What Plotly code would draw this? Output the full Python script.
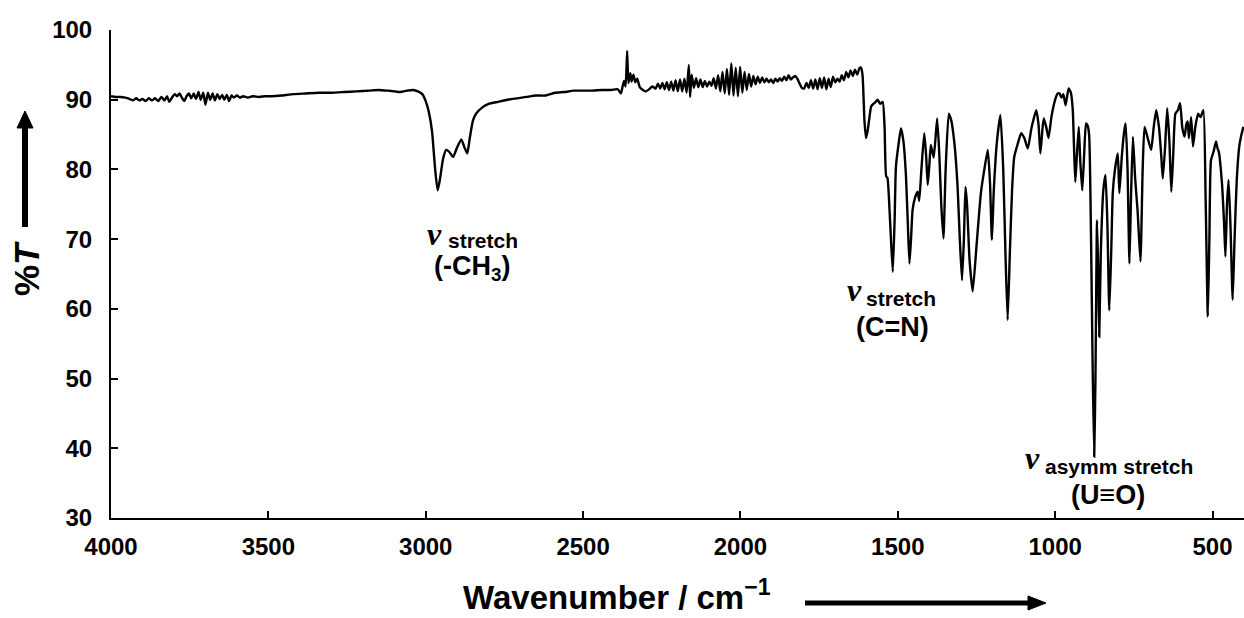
import plotly.graph_objects as go

# ---- IR spectrum, transmittance (%T) vs wavenumber (cm-1) ----
# high-wavenumber baseline
wn_base = [4000, 3985, 3970, 3955, 3940, 3930, 3920, 3910, 3900, 3890, 3880, 3870,
           3860, 3850, 3840, 3830, 3822, 3815, 3805, 3797, 3790, 3782, 3775, 3767,
           3760, 3752, 3745, 3737, 3730, 3722, 3715, 3707, 3700, 3692, 3685, 3677,
           3670, 3662, 3655, 3647, 3640, 3632, 3625, 3617, 3610, 3600, 3590, 3580,
           3565, 3550, 3530, 3510, 3490, 3460, 3420, 3380, 3340, 3300, 3260, 3220,
           3180, 3150, 3120, 3100, 3080, 3060, 3040, 3025]
t_base = [90.5, 90.4, 90.4, 90.3, 90.1, 89.9, 90.2, 89.9, 90.1, 89.8, 90.2, 89.9,
          90.2, 89.8, 90.4, 89.9, 90.5, 89.7, 90.4, 90.8, 90.5, 90.9, 90.3, 89.8,
          90.5, 90.9, 90.2, 90.9, 90.1, 91.1, 90.0, 91.0, 89.3, 91.0, 90.0, 90.9,
          89.9, 90.8, 90.1, 90.7, 90.0, 90.7, 89.8, 90.6, 90.3, 90.6, 90.3, 90.5,
          90.3, 90.5, 90.4, 90.5, 90.5, 90.6, 90.8, 90.9, 91.0, 91.0, 91.1, 91.2,
          91.3, 91.4, 91.3, 91.2, 91.1, 91.3, 91.4, 91.2]

# C-H stretching band (-CH3)
wn_ch = [3011, 3000, 2990, 2980, 2970, 2962, 2955, 2945, 2935, 2925, 2913, 2900,
         2887, 2878, 2868, 2860, 2850, 2840, 2820, 2800, 2770, 2740, 2710, 2680,
         2650, 2620, 2590, 2560, 2530, 2500, 2470, 2440, 2410, 2390, 2380]
t_ch = [90.8, 89.8, 88.2, 85.5, 80.0, 77.0, 78.5, 81.5, 82.8, 82.5, 81.8, 83.2,
        84.3, 83.3, 82.3, 84.5, 87.0, 88.0, 88.9, 89.4, 89.7, 90.0, 90.2, 90.4,
        90.6, 90.6, 91.0, 91.1, 91.3, 91.3, 91.3, 91.4, 91.4, 91.5, 90.9]

# CO2 / water-vapour region
wn_mid = [2375, 2370, 2365, 2360, 2356, 2350, 2346, 2340, 2334, 2328, 2320, 2310,
          2300, 2290, 2280, 2270, 2262, 2255, 2248, 2241, 2234, 2227, 2220, 2213,
          2206, 2199, 2192, 2185, 2178, 2171, 2164, 2160, 2155, 2148, 2141, 2134,
          2127, 2120, 2113, 2106, 2099, 2092, 2085, 2078, 2071, 2064, 2057, 2050,
          2043, 2036, 2029, 2022, 2015, 2008, 2001, 1994, 1987, 1980, 1973, 1966,
          1959, 1952, 1945, 1938, 1931, 1924, 1917, 1910, 1903, 1896, 1889, 1882,
          1875, 1868, 1861, 1854, 1847, 1840, 1833, 1826, 1819, 1812, 1805, 1798,
          1790, 1783, 1776, 1769, 1762, 1755, 1748, 1741, 1734, 1727, 1720, 1713,
          1706, 1699, 1692, 1685, 1678, 1671, 1664, 1657, 1650, 1643, 1636, 1629,
          1622, 1617, 1612]
t_mid = [91.8, 92.7, 91.9, 97.0, 92.4, 93.8, 92.6, 93.6, 92.5, 93.0, 91.8, 91.4,
         91.2, 91.5, 91.9, 91.6, 92.3, 91.6, 92.4, 91.5, 92.5, 91.4, 92.6, 91.3,
         92.8, 91.2, 92.9, 91.2, 93.0, 91.0, 95.0, 90.4, 93.6, 91.7, 93.1, 91.8,
         92.9, 91.8, 92.7, 91.9, 92.6, 92.0, 93.1, 91.6, 93.5, 91.2, 94.0, 90.9,
         94.4, 90.7, 95.2, 90.6, 94.6, 90.5, 94.7, 91.0, 94.0, 91.4, 93.7, 91.9,
         93.4, 92.2, 93.3, 92.4, 93.2, 92.5, 93.0, 92.5, 92.9, 92.4, 93.0, 92.6,
         93.1, 92.7, 93.3, 92.8, 93.5, 92.9, 93.2, 93.4, 93.0, 92.3, 91.7, 91.6,
         92.4, 91.7, 92.8, 91.6, 92.9, 91.5, 93.1, 91.7, 93.2, 91.5, 93.0, 91.8,
         93.3, 92.5, 93.0, 92.6, 93.5, 92.8, 94.0, 93.2, 94.2, 93.4, 94.3, 93.6,
         94.5, 94.6, 93.5]

# fingerprint region (C=N, U=O, ...)
wn_fp = [1606, 1601, 1596, 1590, 1585, 1580, 1572, 1564, 1556, 1548, 1542, 1537,
         1533, 1525, 1516, 1510, 1506, 1498, 1490, 1482, 1474, 1468, 1463, 1458,
         1453, 1445, 1437, 1432, 1425, 1416, 1410, 1405, 1400, 1395, 1386, 1375,
         1368, 1362, 1355, 1348, 1338, 1330, 1320, 1315, 1310, 1303, 1296, 1290,
         1285, 1280, 1272, 1262, 1250, 1236, 1225, 1214, 1207, 1201, 1195, 1185,
         1174, 1165, 1158, 1151, 1144, 1137, 1130, 1120, 1108, 1098, 1087, 1075,
         1060, 1053, 1047, 1040, 1036, 1028, 1021, 1012, 1000, 992, 986, 980,
         974, 967, 962, 957, 950, 944, 940, 936, 931, 925, 920, 914,
         908, 902, 897, 892, 886, 881, 876, 872, 867, 863, 860, 855,
         847, 840, 834, 828, 822, 817, 810, 801, 796, 788, 780, 776,
         770, 764, 759, 753, 746, 738, 729, 722, 716, 706, 695, 687,
         679, 670, 663, 658, 651, 644, 637, 631, 625, 618, 610, 603,
         596, 589, 583, 579, 575, 568, 562, 555, 546, 538, 529, 522,
         515, 510, 505, 497, 489, 484, 480, 470, 463, 459, 454, 449,
         443, 436, 430, 423, 415, 408, 402]
t_fp = [87.0, 84.5, 85.5, 87.5, 89.0, 89.3, 89.6, 90.0, 89.4, 89.7, 86.0, 79.0,
        78.8, 73.0, 65.3, 73.0, 80.4, 83.5, 85.9, 84.0, 79.0, 72.0, 66.5, 70.0,
        74.2, 76.0, 76.8, 75.5, 80.0, 85.2, 82.0, 77.8, 80.5, 83.5, 81.7, 87.3,
        82.0, 75.0, 70.1, 80.0, 88.0, 87.0, 83.7, 81.0, 77.5, 70.0, 64.1, 70.0,
        77.5, 75.0, 67.0, 62.5, 69.0, 76.6, 80.0, 82.8, 78.0, 69.9, 77.0, 84.0,
        87.8, 80.0, 68.0, 58.4, 68.0, 77.0, 81.8, 83.5, 85.2, 84.5, 83.0, 86.0,
        88.5, 86.5, 82.3, 86.0, 87.3, 86.0, 84.5, 87.5, 90.0, 90.9, 90.9, 90.3,
        90.8, 89.2, 90.5, 91.6, 91.0, 88.5, 83.0, 78.2, 82.0, 86.1, 81.0, 77.0,
        82.0, 86.6, 86.3, 84.9, 70.0, 52.0, 38.8, 50.0, 72.7, 65.0, 56.0, 68.0,
        77.0, 79.2, 72.0, 59.8, 68.0, 76.6, 80.0, 82.3, 76.6, 82.0, 85.7, 86.6,
        80.0, 66.5, 76.0, 84.7, 78.8, 74.0, 66.8, 80.0, 86.1, 84.5, 82.8, 86.0,
        88.5, 86.0, 82.0, 78.7, 83.0, 88.8, 84.0, 76.8, 82.0, 88.0, 88.5, 89.5,
        86.0, 84.7, 86.5, 86.9, 84.5, 87.5, 83.3, 86.0, 88.0, 87.5, 88.5, 76.0,
        58.9, 70.0, 81.3, 82.5, 84.0, 83.0, 82.5, 78.0, 72.0, 67.5, 75.0, 78.5,
        72.0, 61.3, 70.0, 78.5, 83.3, 85.0, 86.1]

x_ticks = [4000, 3500, 3000, 2500, 2000, 1500, 1000, 500]
y_ticks = [30, 40, 50, 60, 70, 80, 90, 100]

wavenumber = wn_base + wn_ch + wn_mid + wn_fp
transmittance = t_base + t_ch + t_mid + t_fp

W, H = 1244, 618
ML, MR, MT, MB = 111, 0, 30, 100
PW, PH = W - ML - MR, H - MT - MB


def px(x):
    return (x - ML) / PW


def py(y):
    return (H - MB - y) / PH


SANS = "Liberation Sans, Arial, sans-serif"
SERIF = "Liberation Serif, Times New Roman, serif"

fig = go.Figure()
fig.add_trace(go.Scatter(
    x=wavenumber, y=transmittance, mode="lines",
    line=dict(color="black", width=2.4, shape="spline", smoothing=0.5),
    showlegend=False, hoverinfo="skip"))

axis_common = dict(
    showline=True, linecolor="black", linewidth=2, mirror=False,
    ticks="inside", ticklen=7, tickwidth=2, tickcolor="black",
    showgrid=False, zeroline=False,
    tickfont=dict(family=SANS, size=24, color="black", weight="bold"),
)
fig.update_xaxes(range=[4000, 400], tickvals=x_ticks, ticklabelstandoff=6,
                 **axis_common)
fig.update_yaxes(range=[30, 100], tickvals=y_ticks, ticklabelstandoff=12,
                 **axis_common)


def label(x, y, text, font, anchor="left", vanchor="middle"):
    fig.add_annotation(x=px(x), y=py(y), xref="paper", yref="paper",
                       text=text, showarrow=False, xanchor=anchor,
                       yanchor=vanchor, font=font, borderpad=0)


nu_font = dict(family=SERIF, size=32, color="black", style="italic", weight="bold")
sub_font = dict(family=SANS, size=21, color="black", weight="bold")
grp_font = dict(family=SANS, size=27, color="black", weight="bold")

# -CH3 stretch
label(426, 234, "ν", nu_font)
label(447, 241, "stretch", sub_font)
label(472, 268, "(-CH<sub>3</sub>)", grp_font, "center")
# C=N stretch
label(846, 290, "ν", nu_font)
label(865, 298, "stretch", sub_font)
label(892, 327, "(C=N)", grp_font, "center")
# U=O asymmetric stretch
label(1024, 458, "ν", nu_font)
label(1044, 466, "asymm stretch", sub_font)
label(1108, 495, "(U≡O)", grp_font, "center")

# axis titles
label(462, 617, "Wavenumber / cm<sup>−1</sup>",
      dict(family=SANS, size=33, color="black", weight="bold"), vanchor="bottom")
fig.add_annotation(x=px(26), y=py(269), xref="paper", yref="paper",
                   text="%<i>T</i>", showarrow=False, textangle=-90,
                   xanchor="center", yanchor="middle",
                   font=dict(family=SANS, size=35, color="black", weight="bold"))

# direction arrows
shapes = []
shapes.append(dict(type="line", xref="paper", yref="paper",
                   x0=px(805), y0=py(603), x1=px(1030), y1=py(603),
                   line=dict(color="black", width=5)))
shapes.append(dict(type="path", xref="paper", yref="paper",
                   path=f"M {px(1046)},{py(603)} L {px(1028)},{py(596)} "
                        f"L {px(1028)},{py(610)} Z",
                   fillcolor="black", line=dict(color="black", width=1)))
shapes.append(dict(type="line", xref="paper", yref="paper",
                   x0=px(25), y0=py(227), x1=px(25), y1=py(126),
                   line=dict(color="black", width=6)))
shapes.append(dict(type="path", xref="paper", yref="paper",
                   path=f"M {px(25)},{py(111)} L {px(17)},{py(128)} "
                        f"L {px(33)},{py(128)} Z",
                   fillcolor="black", line=dict(color="black", width=1)))
fig.update_layout(shapes=shapes)

fig.update_layout(
    width=W, height=H,
    margin=dict(l=ML, r=MR, t=MT, b=MB, autoexpand=False),
    paper_bgcolor="white", plot_bgcolor="white",
)

fig.write_html("out.html", config={"displayModeBar": False})
